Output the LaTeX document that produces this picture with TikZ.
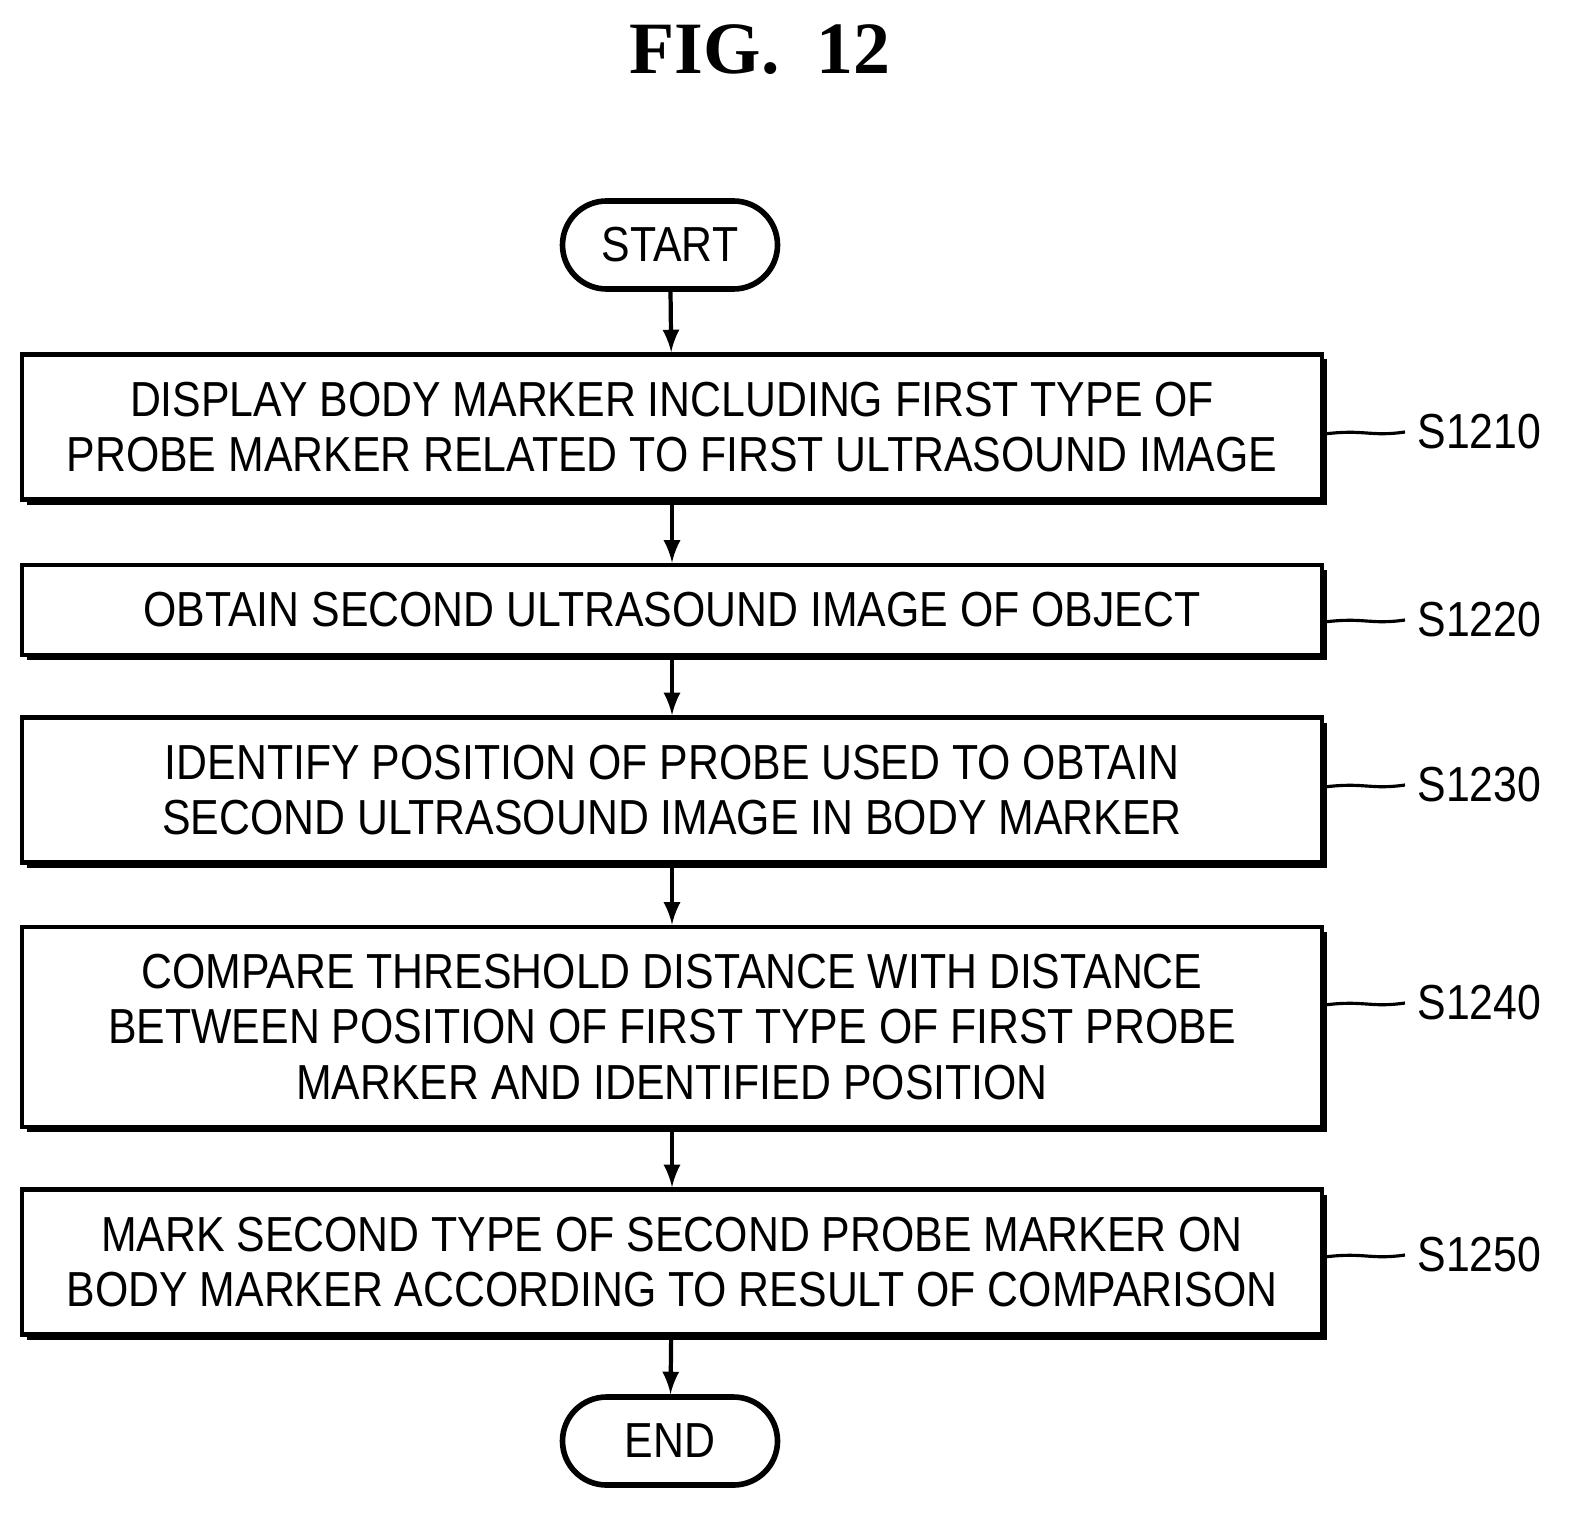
\documentclass[tikz,border=0pt]{standalone}
\usepackage{fontspec}
\setmainfont[FakeStretch=0.87]{Liberation Sans}
\newfontfamily\figfont{Liberation Serif}
\usetikzlibrary{shadows}

\tikzset{
  stepbox/.style={draw, line width=1.3pt, fill=white, minimum width=13cm, align=center,
    inner xsep=2pt,
    drop shadow={shadow xshift=0.05cm, shadow yshift=-0.05cm, opacity=1, fill=black},
    font=\fontsize{14}{15.8}\selectfont},
  term/.style={draw, line width=1.6pt, rounded corners=0.44cm, minimum width=2.15cm,
    minimum height=0.88cm, font=\fontsize{14}{16}\selectfont},
  tag/.style={font=\fontsize{14}{16}\selectfont, anchor=west},
  flow/.style={->, >=latex, line width=1.2pt},
  lead/.style={line width=0.9pt}
}

\begin{document}
\begin{tikzpicture}
  \useasboundingbox (0,0) rectangle (15.86,-15.25);

  \node[font=\figfont\bfseries\fontsize{21}{23}\selectfont] (fig) at (7.6,-0.5) {FIG.\ \ 12};

  \node[term] (start) at (6.7,-2.45) {START};

  \node[stepbox, minimum height=1.45cm]
    (s1210) at (6.72,-4.27) {DISPLAY BODY MARKER INCLUDING FIRST TYPE OF\\PROBE MARKER RELATED TO FIRST ULTRASOUND IMAGE};

  \node[stepbox, minimum height=0.9cm]
    (s1220) at (6.72,-6.1) {OBTAIN SECOND ULTRASOUND IMAGE OF OBJECT};

  \node[stepbox, minimum height=1.45cm]
    (s1230) at (6.72,-7.9) {IDENTIFY POSITION OF PROBE USED TO OBTAIN\\SECOND ULTRASOUND IMAGE IN BODY MARKER};

  \node[stepbox, minimum height=2cm]
    (s1240) at (6.72,-10.27) {COMPARE THRESHOLD DISTANCE WITH DISTANCE\\BETWEEN POSITION OF FIRST TYPE OF FIRST PROBE\\MARKER AND IDENTIFIED POSITION};

  \node[stepbox, minimum height=1.45cm]
    (s1250) at (6.72,-12.62) {MARK SECOND TYPE OF SECOND PROBE MARKER ON\\BODY MARKER ACCORDING TO RESULT OF COMPARISON};

  \node[term] (end) at (6.7,-14.41) {END};

  \node[tag] (l1210) at (14.05,-4.32) {S1210};
  \node[tag] (l1220) at (14.05,-6.2) {S1220};
  \node[tag] (l1230) at (14.05,-7.85) {S1230};
  \node[tag] (l1240) at (14.05,-10.03) {S1240};
  \node[tag] (l1250) at (14.05,-12.55) {S1250};

  \draw[flow] (start) -- (s1210);
  \draw[flow] (s1210) -- (s1220);
  \draw[flow] (s1220) -- (s1230);
  \draw[flow] (s1230) -- (s1240);
  \draw[flow] (s1240) -- (s1250);
  \draw[flow] (s1250) -- (end);

  % leaders
  \foreach \s in {1210,1220,1230,1240,1250}
    \draw[lead] (s\s.east |- l\s.west) ++(0,-0.02) .. controls +(0.4,0.05) and +(-0.35,-0.05) .. (l\s.west);
\end{tikzpicture}
\end{document}
